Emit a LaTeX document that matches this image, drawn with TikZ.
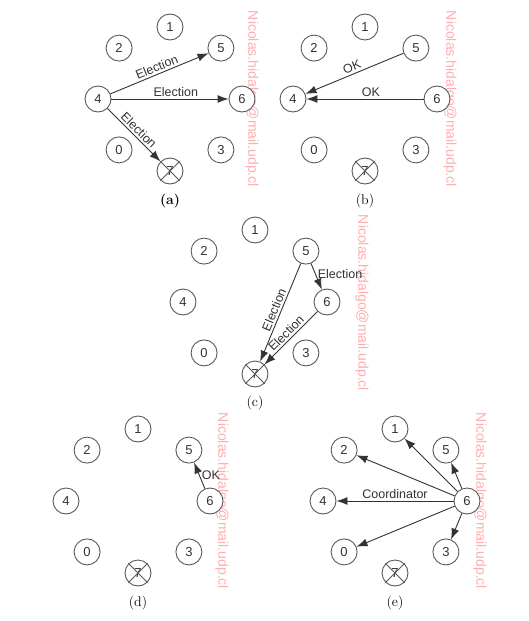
\documentclass[tikz,border=0pt]{standalone}
\usepackage{fontspec}
\setsansfont{Liberation Sans}
\usetikzlibrary{arrows.meta}
\tikzset{
 proc/.style={circle,draw=black!65,fill=white,line width=0.9pt,minimum size=26pt,inner sep=0pt,
  font=\sffamily\fontsize{13}{15}\selectfont,text=black!80},
 msg/.style={draw=black!80,line width=0.9pt,-{Latex[length=11pt,width=8pt]}},
 lbl/.style={font=\sffamily\fontsize{12.5}{14}\selectfont,text=black!80,inner sep=2pt},
 wmark/.style={rotate=-90,text=red!32,font=\sffamily\fontsize{14}{16}\selectfont},
 capt/.style={font=\fontsize{14}{16}\selectfont}
}
\newcommand{\procring}[1]{%
 \foreach \n/\ang in {1/90,5/45,6/0,3/-45,0/-135,4/180,2/135}
  \node[proc] (#1\n) at (\ang:72) {\n};
 \node[proc] (#17) at (-90:72) {7};
 \draw[black!65,line width=0.8pt] (#17.45)--(#17.225) (#17.135)--(#17.-45);
}
\begin{document}
\begin{tikzpicture}[x=1pt,y=1pt]
 \useasboundingbox (0,0) rectangle (529,-621);
 \begin{scope}[shift={(170,-99)}]
  \node[wmark] (wa) at (82,0) {Nicolas.hidalgo@mail.udp.cl};
  \procring{a}
  \draw[msg] (a4) -- node[lbl,above,sloped] {Election} (a5);
  \draw[msg] (a4) -- node[lbl,above,pos=0.55] {Election} (a6);
  \draw[msg] (a4) -- node[lbl,above,sloped] {Election} (a7);
  \node[capt] (capa) at (0,-102) {\bfseries (a)};
 \end{scope}
 \begin{scope}[shift={(365,-99)}]
  \node[wmark] (wb) at (85,0) {Nicolas.hidalgo@mail.udp.cl};
  \procring{b}
  \draw[msg] (b5) -- node[lbl,above,sloped] {OK} (b4);
  \draw[msg] (b6) -- node[lbl,above,pos=0.45] {OK} (b4);
  \node[capt] (capb) at (0,-102) {(b)};
 \end{scope}
 \begin{scope}[shift={(255,-302)}]
  \node[wmark] (wc) at (107,-1) {Nicolas.hidalgo@mail.udp.cl};
  \procring{c}
  \draw[msg] (c5) -- node[lbl,right,pos=0.4] {Election} (c6);
  \draw[msg] (c5) -- node[lbl,above,sloped] {Election} (c7);
  \draw[msg] (c6) -- node[lbl,above,sloped] {Election} (c7);
  \node[capt] (capc) at (0,-101) {(c)};
 \end{scope}
 \begin{scope}[shift={(138,-501)}]
  \node[wmark] (wd) at (84,0) {Nicolas.hidalgo@mail.udp.cl};
  \procring{d}
  \draw[msg] (d6) -- node[lbl,right] {OK} (d5);
  \node[capt] (capd) at (0,-102) {(d)};
 \end{scope}
 \begin{scope}[shift={(395,-501)}]
  \node[wmark] (we) at (85,0) {Nicolas.hidalgo@mail.udp.cl};
  \procring{e}
  \foreach \n in {1,2,5,0,3}
   \draw[msg] (e6) -- (e\n);
  \draw[msg] (e6) -- node[lbl,above] {Coordinator} (e4);
  \node[capt] (cape) at (0,-102) {(e)};
 \end{scope}
\end{tikzpicture}
\end{document}
